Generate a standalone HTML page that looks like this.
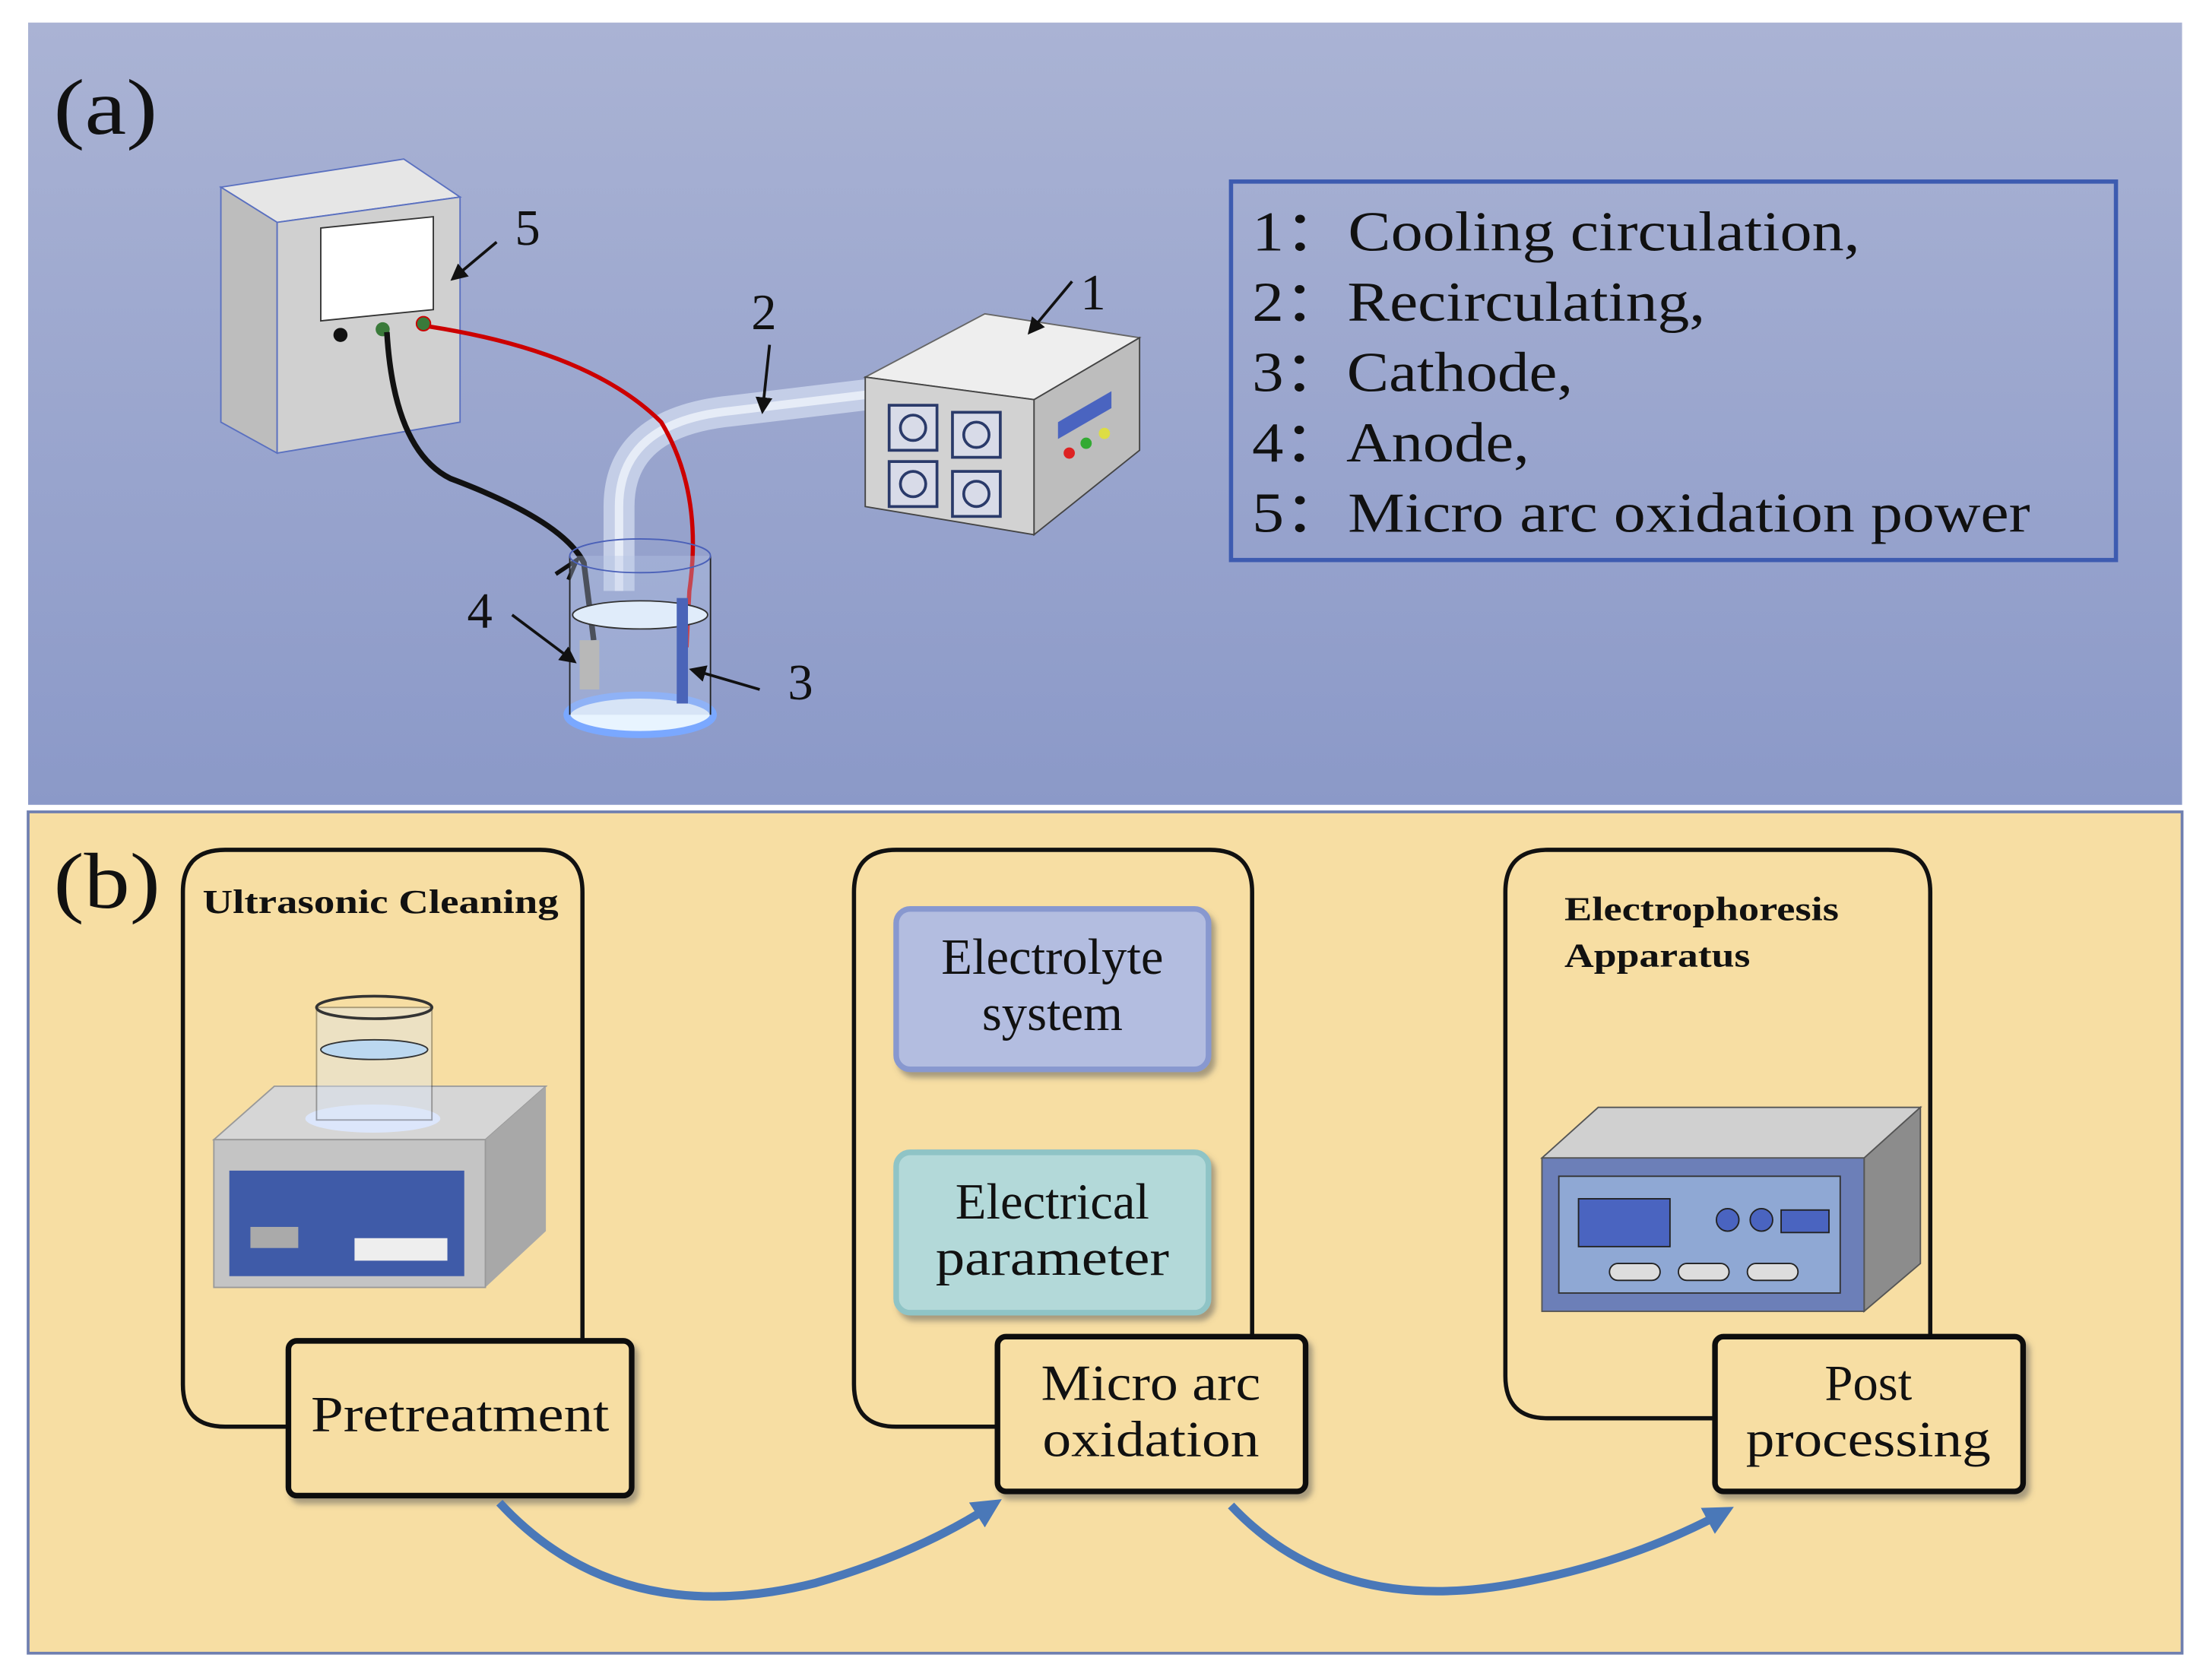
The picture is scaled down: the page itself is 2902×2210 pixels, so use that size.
<!DOCTYPE html>
<html><head><meta charset="utf-8"><style>
html,body{margin:0;padding:0;background:#fff;}
svg{display:block;}
text{font-family:"Liberation Serif",serif;fill:#111;}
</style></head><body>
<svg width="2902" height="2210" viewBox="0 0 1568 1194" xmlns="http://www.w3.org/2000/svg">
<defs>
<linearGradient id="ga" x1="0" y1="0" x2="0" y2="1"><stop offset="0" stop-color="#aab3d4"/><stop offset="1" stop-color="#8b99c8"/></linearGradient>
<marker id="ar" viewBox="0 0 10 10" refX="8" refY="5" markerWidth="6" markerHeight="6" orient="auto"><path d="M0,0L10,5L0,10z" fill="#111"/></marker>
<marker id="ab" viewBox="0 0 10 10" refX="6" refY="5" markerWidth="3.5" markerHeight="3.5" orient="auto"><path d="M0,0L10,5L0,10z" fill="#4a78b8"/></marker>
<filter id="sh"><feDropShadow dx="3" dy="4" stdDeviation="2" flood-color="#555" flood-opacity="0.5"/></filter>
</defs>
<rect width="1568" height="1194" fill="#fff"/>
<rect x="20" y="16" width="1531" height="556" fill="url(#ga)"/>
<text x="38" y="95" font-size="56" textLength="74" lengthAdjust="spacingAndGlyphs">(a)</text>
<polygon points="157,133 287,113 327,140 197,158" fill="#e6e6e6" stroke="#5a70c0"/>
<polygon points="157,133 197,158 197,322 157,300" fill="#bdbdbd" stroke="#5a70c0"/>
<polygon points="197,158 327,140 327,300 197,322" fill="#d0d0d0" stroke="#5a70c0"/>
<polygon points="228,162 308,154 308,220 228,228" fill="#fff" stroke="#333"/>
<circle cx="242" cy="238" r="5" fill="#111"/><circle cx="272" cy="234" r="5" fill="#3a7a3a"/><circle cx="301" cy="230" r="5" fill="#3a7a3a" stroke="#c00"/>
<line x1="353" y1="172" x2="322" y2="198" stroke="#111" stroke-width="2" marker-end="url(#ar)"/>
<text x="366" y="174" font-size="36">5</text>
<path d="M440,420 L440,360 Q440,300 520,292 L620,280" fill="none" stroke="#c9d3ea" stroke-width="22" opacity="0.9"/>
<path d="M440,420 L440,360 Q440,300 520,292 L620,280" fill="none" stroke="#e6ecf7" stroke-width="6"/>
<path d="M305,232 Q420,250 470,300 Q500,350 490,420 L488,460" fill="none" stroke="#c00" stroke-width="3"/>
<path d="M275,236 Q280,320 320,340 Q400,370 415,400 L422,455" fill="none" stroke="#111" stroke-width="4"/>
<path d="M395,408 L410,398 L404,412" fill="none" stroke="#111" stroke-width="3"/>
<polygon points="615,268 700,223 810,240 735,284" fill="#eeeeee" stroke="#666"/>
<polygon points="615,268 735,284 735,380 615,360" fill="#d2d2d2" stroke="#444"/>
<polygon points="735,284 810,240 810,320 735,380" fill="#bdbdbd" stroke="#444"/>
<g fill="#d8dbe8" stroke="#2a3a6a" stroke-width="2">
<rect x="632" y="288" width="34" height="32"/><rect x="677" y="293" width="34" height="32"/><rect x="632" y="328" width="34" height="32"/><rect x="677" y="335" width="34" height="32"/></g>
<g fill="none" stroke="#2a3a6a" stroke-width="2"><circle cx="649" cy="304" r="9"/><circle cx="694" cy="309" r="9"/><circle cx="649" cy="344" r="9"/><circle cx="694" cy="351" r="9"/></g>
<polygon points="752,300 790,278 790,290 752,312" fill="#4a64c0"/>
<circle cx="760" cy="322" r="4" fill="#d22"/><circle cx="772" cy="315" r="4" fill="#3a3"/><circle cx="785" cy="308" r="4" fill="#dd4"/>
<line x1="762" y1="200" x2="732" y2="236" stroke="#111" stroke-width="2" marker-end="url(#ar)"/>
<text x="768" y="220" font-size="36">1</text>
<line x1="547" y1="245" x2="542" y2="292" stroke="#111" stroke-width="2" marker-end="url(#ar)"/>
<text x="534" y="234" font-size="36">2</text>
<ellipse cx="455" cy="508" rx="52" ry="14" fill="#e8f4ff" stroke="#7aa8ff" stroke-width="5"/>
<rect x="405" y="395" width="100" height="113" fill="#b8c6e4" opacity="0.35"/>
<line x1="405" y1="395" x2="405" y2="508" stroke="#222"/><line x1="505" y1="395" x2="505" y2="508" stroke="#222"/>
<ellipse cx="455" cy="395" rx="50" ry="12" fill="none" stroke="#4a60b8"/>
<ellipse cx="455" cy="437" rx="48" ry="10" fill="#e0ecfa" stroke="#333"/>
<rect x="412" y="455" width="14" height="35" fill="#b8b8b8"/>
<rect x="481" y="425" width="8" height="75" fill="#4a64b8"/>
<line x1="364" y1="437" x2="408" y2="470" stroke="#111" stroke-width="2" marker-end="url(#ar)"/>
<text x="332" y="446" font-size="36">4</text>
<line x1="540" y1="490" x2="492" y2="476" stroke="#111" stroke-width="2" marker-end="url(#ar)"/>
<text x="560" y="497" font-size="36">3</text>
<rect x="875" y="129" width="629" height="269" fill="none" stroke="#3d5bb0" stroke-width="3"/>
<g font-size="40" lengthAdjust="spacingAndGlyphs">
<text x="890" y="178" textLength="432" lengthAdjust="spacingAndGlyphs">1：Cooling circulation,</text>
<text x="890" y="228" textLength="322" lengthAdjust="spacingAndGlyphs">2：Recirculating,</text>
<text x="890" y="278" textLength="228" lengthAdjust="spacingAndGlyphs">3：Cathode,</text>
<text x="890" y="328" textLength="197" lengthAdjust="spacingAndGlyphs">4：Anode,</text>
<text x="890" y="378" textLength="553" lengthAdjust="spacingAndGlyphs">5：Micro arc oxidation power</text></g>
<rect x="20" y="577" width="1531" height="598" fill="#f7dea3" stroke="#6f7fb0" stroke-width="2"/>
<text x="38" y="645" font-size="56" textLength="76" lengthAdjust="spacingAndGlyphs">(b)</text>
<g fill="none" stroke="#111" stroke-width="3">
<path d="M205,1014 L160,1014 Q130,1014 130,984 L130,634 Q130,604 160,604 L384,604 Q414,604 414,634 L414,952"/>
<path d="M710,1014 L637,1014 Q607,1014 607,984 L607,634 Q607,604 637,604 L860,604 Q890,604 890,634 L890,950"/>
<path d="M1220,1008 L1100,1008 Q1070,1008 1070,978 L1070,634 Q1070,604 1100,604 L1342,604 Q1372,604 1372,634 L1372,950"/>
</g>
<text x="144" y="649" font-size="24" font-weight="bold" textLength="253" lengthAdjust="spacingAndGlyphs">Ultrasonic Cleaning</text>
<text x="1112" y="654" font-size="24" font-weight="bold" textLength="195" lengthAdjust="spacingAndGlyphs">Electrophoresis</text>
<text x="1112" y="687" font-size="24" font-weight="bold" textLength="132" lengthAdjust="spacingAndGlyphs">Apparatus</text>
<polygon points="152,810 195,772 388,772 345,810" fill="#d6d6d6" stroke="#999"/>
<polygon points="345,810 388,772 388,875 345,915" fill="#a8a8a8"/>
<rect x="152" y="810" width="193" height="105" fill="#c4c4c4" stroke="#999"/>
<rect x="163" y="832" width="167" height="75" fill="#3f5ba8"/>
<rect x="178" y="872" width="34" height="15" fill="#aaa"/>
<rect x="252" y="880" width="66" height="16" fill="#eee"/>
<ellipse cx="265" cy="795" rx="48" ry="10" fill="#dde8ff" opacity="0.9"/>
<rect x="225" y="716" width="82" height="80" fill="#dce6f4" opacity="0.4" stroke="#333"/>
<ellipse cx="266" cy="716" rx="41" ry="8" fill="none" stroke="#333" stroke-width="2"/>
<ellipse cx="266" cy="746" rx="38" ry="7" fill="#bcd8f0" stroke="#333"/>
<rect x="637" y="646" width="222" height="114" rx="10" fill="#b3bde0" stroke="#8898cf" stroke-width="4" filter="url(#sh)"/>
<text x="748" y="692" font-size="36" text-anchor="middle">Electrolyte</text>
<text x="748" y="732" font-size="36" text-anchor="middle">system</text>
<rect x="637" y="819" width="222" height="114" rx="10" fill="#b3d9d9" stroke="#8fc4c6" stroke-width="4" filter="url(#sh)"/>
<text x="748" y="866" font-size="36" text-anchor="middle">Electrical</text>
<text x="748" y="906" font-size="36" text-anchor="middle" textLength="166" lengthAdjust="spacingAndGlyphs">parameter</text>
<polygon points="1096,823 1136,787 1365,787 1325,823" fill="#d0d0d0" stroke="#555"/>
<polygon points="1325,823 1365,787 1365,898 1325,932" fill="#8c8c8c" stroke="#555"/>
<rect x="1096" y="823" width="229" height="109" fill="#6c7fb8" stroke="#555"/>
<rect x="1108" y="836" width="200" height="83" fill="#8fa8d4" stroke="#333"/>
<rect x="1122" y="852" width="65" height="34" fill="#4a64c0" stroke="#222"/>
<circle cx="1228" cy="867" r="8" fill="#4a64c0" stroke="#222"/><circle cx="1252" cy="867" r="8" fill="#4a64c0" stroke="#222"/>
<rect x="1266" y="860" width="34" height="16" fill="#4a64c0" stroke="#222"/>
<g fill="#ddd" stroke="#222"><rect x="1144" y="898" width="36" height="12" rx="6"/><rect x="1193" y="898" width="36" height="12" rx="6"/><rect x="1242" y="898" width="36" height="12" rx="6"/></g>
<g fill="#f7dea3" stroke="#111" stroke-width="4" filter="url(#sh)">
<rect x="205" y="953" width="244" height="110" rx="6"/>
<rect x="709" y="950" width="219" height="110" rx="6"/>
<rect x="1219" y="950" width="219" height="110" rx="6"/>
</g>
<text x="327" y="1017" font-size="36" text-anchor="middle" textLength="212" lengthAdjust="spacingAndGlyphs">Pretreatment</text>
<text x="818" y="995" font-size="36" text-anchor="middle" textLength="156" lengthAdjust="spacingAndGlyphs">Micro arc</text>
<text x="818" y="1035" font-size="36" text-anchor="middle" textLength="154" lengthAdjust="spacingAndGlyphs">oxidation</text>
<text x="1328" y="995" font-size="36" text-anchor="middle">Post</text>
<text x="1328" y="1035" font-size="36" text-anchor="middle" textLength="174" lengthAdjust="spacingAndGlyphs">processing</text>
<path d="M355,1068 Q440,1160 580,1125 Q650,1105 705,1070" fill="none" stroke="#4a78b8" stroke-width="6" marker-end="url(#ab)"/>
<path d="M875,1070 Q950,1150 1080,1125 Q1160,1110 1225,1075" fill="none" stroke="#4a78b8" stroke-width="6" marker-end="url(#ab)"/>
</svg>
</body></html>
